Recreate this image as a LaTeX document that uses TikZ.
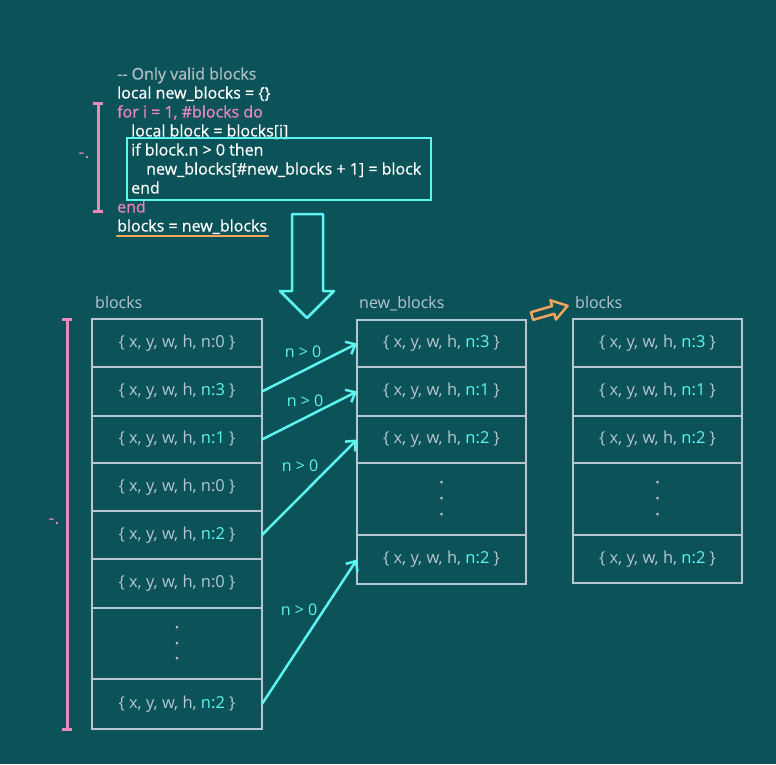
\documentclass[tikz,border=0pt]{standalone}
\usepackage{fontspec}
\setmainfont{Open Sans}
\newfontfamily\codefont{Open Sans}[FakeBold=0.6]
\usetikzlibrary{arrows.meta}
\definecolor{bg}{RGB}{11,82,89}
\definecolor{boxline}{RGB}{184,199,207}
\definecolor{celltext}{RGB}{184,199,207}
\definecolor{hl}{RGB}{92,245,240}
\definecolor{pinkc}{RGB}{240,136,190}
\definecolor{orangec}{RGB}{245,165,90}
\definecolor{commentc}{RGB}{175,190,196}
\newcommand{\rec}[1]{\{ x, y, w, h, #1 \}}
\newcommand{\hrec}[1]{\{ x, y, w, h, \textcolor{hl}{#1} \}}
\begin{document}
\begin{tikzpicture}[x=1pt,y=-1pt,
  cell/.style={draw=boxline, line width=2.4pt, inner sep=0pt, outer sep=0pt,
    text=celltext, font=\fontsize{16.5}{18}\selectfont},
  lcol/.style={cell, minimum width=170pt},
  rcol/.style={cell, minimum width=169pt},
  code/.style={anchor=base west, inner sep=0pt, text=white, font=\codefont\fontsize{16}{18}\selectfont},
  title/.style={anchor=base west, inner sep=0pt, text=celltext, font=\fontsize{16}{18}\selectfont},
  cond/.style={inner sep=0pt, text=hl, font=\fontsize{16}{18}\selectfont},
  flow/.style={draw=hl, line width=2.5pt, -{Straight Barb[length=8pt,width=14pt,line width=2.5pt]}},
  brk/.style={draw=pinkc, line width=3pt},
  bmark/.style={inner sep=0pt, text=pinkc, font=\fontsize{18}{18}\selectfont},
  dot/.style={fill=celltext, draw=none},
]
\fill[bg] (0,0) rectangle (776,764);
\useasboundingbox (0,0) rectangle (776,764);

% ---- code listing ----
\node[code, text=commentc] (c1) at (117,79.5) {-{}- Only valid blocks};
\node[code] (c2) at (117,98.5) {local new\_blocks = \{\}};
\node[code, text=pinkc] (c3) at (117,117.5) {for i = 1, \#blocks do};
\node[code] (c4) at (131,136.5) {local block = blocks[i]};
\node[code] (c5) at (131,155.5) {if block.n > 0 then};
\node[code] (c6) at (146,174.5) {new\_blocks[\#new\_blocks + 1] = block};
\node[code] (c7) at (131,193.5) {end};
\node[code, text=pinkc] (c8) at (117,212.5) {end};
\node[code] (c9) at (117,231.5) {blocks = new\_blocks};

% filter block frame and assignment underline
\draw[hl, line width=2.5pt] (127,138) rectangle (431,200);
\draw[orangec, line width=2.5pt, line cap=round] (117,236) -- (268,236);

% loop bracket
\draw[brk] (98,103) -- (98,211);
\draw[brk] (93,103) -- (103,103);
\draw[brk] (93,211) -- (103,211);
\node[bmark] (lp1) at (84,156) {-.};

% big down arrow
\draw[hl, line width=2.5pt, line join=round]
  (292,214) -- (323,214) -- (323,291) -- (334,291) -- (307,318)
  -- (280,291) -- (292,291) -- cycle;

% ---- original blocks ----
\node[title] (tl) at (95,308) {blocks};
\node[lcol, minimum height=48pt] (l1) at (177,343) {\rec{n:0}};
\node[lcol, minimum height=49pt] (l2) at (177,391.5) {\hrec{n:3}};
\node[lcol, minimum height=47pt] (l3) at (177,439.5) {\hrec{n:1}};
\node[lcol, minimum height=48pt] (l4) at (177,487) {\rec{n:0}};
\node[lcol, minimum height=48pt] (l5) at (177,535) {\hrec{n:2}};
\node[lcol, minimum height=49pt] (l6) at (177,583.5) {\rec{n:0}};
\node[lcol, minimum height=71pt] (l7) at (177,643.5) {};
\node[lcol, minimum height=50pt] (l8) at (177,704) {\hrec{n:2}};
\foreach \yy in {627,643,658} \fill[dot] (177,\yy) circle (1.5pt);

% outer bracket
\draw[brk] (67,319) -- (67,729);
\draw[brk] (62,319) -- (72,319);
\draw[brk] (62,729) -- (72,729);
\node[bmark] (lp2) at (54,522) {-.};

% ---- filtered blocks ----
\node[title] (tm) at (359,308) {new\_blocks};
\node[rcol, minimum height=47pt] (m1) at (441.5,343.5) {\hrec{n:3}};
\node[rcol, minimum height=49pt] (m2) at (441.5,391.5) {\hrec{n:1}};
\node[rcol, minimum height=47pt] (m3) at (441.5,439.5) {\hrec{n:2}};
\node[rcol, minimum height=72pt] (m4) at (441.5,499) {};
\node[rcol, minimum height=49pt] (m5) at (441.5,559.5) {\hrec{n:2}};
\foreach \yy in {482,498,514} \fill[dot] (441.5,\yy) circle (1.5pt);

% ---- result ----
\node[title] (tr) at (575,308) {blocks};
\node[rcol, minimum height=48pt] (r1) at (657.5,343) {\hrec{n:3}};
\node[rcol, minimum height=49pt] (r2) at (657.5,391.5) {\hrec{n:1}};
\node[rcol, minimum height=47pt] (r3) at (657.5,439.5) {\hrec{n:2}};
\node[rcol, minimum height=72pt] (r4) at (657.5,499) {};
\node[rcol, minimum height=48pt] (r5) at (657.5,559) {\hrec{n:2}};
\foreach \yy in {482,498,514} \fill[dot] (657.5,\yy) circle (1.5pt);

% rename arrow
\draw[orangec, line width=2.5pt, line join=round, shift={(532,316)}, rotate=16]
  (0,-4) -- (22,-4) -- (22,-10) -- (37,0) -- (22,10) -- (22,4) -- (0,4) -- cycle;

% ---- filter arrows ----
\draw[flow] (l2.east) -- (m1.west);
\draw[flow] (l3.east) -- (m2.west);
\draw[flow] (l5.east) -- (m3.west);
\draw[flow] (l8.east) -- (m5.west);
\node[cond] (k1) at (303,352) {n > 0};
\node[cond] (k2) at (305,401) {n > 0};
\node[cond] (k3) at (300,466) {n > 0};
\node[cond] (k4) at (299,610) {n > 0};
\end{tikzpicture}
\end{document}
